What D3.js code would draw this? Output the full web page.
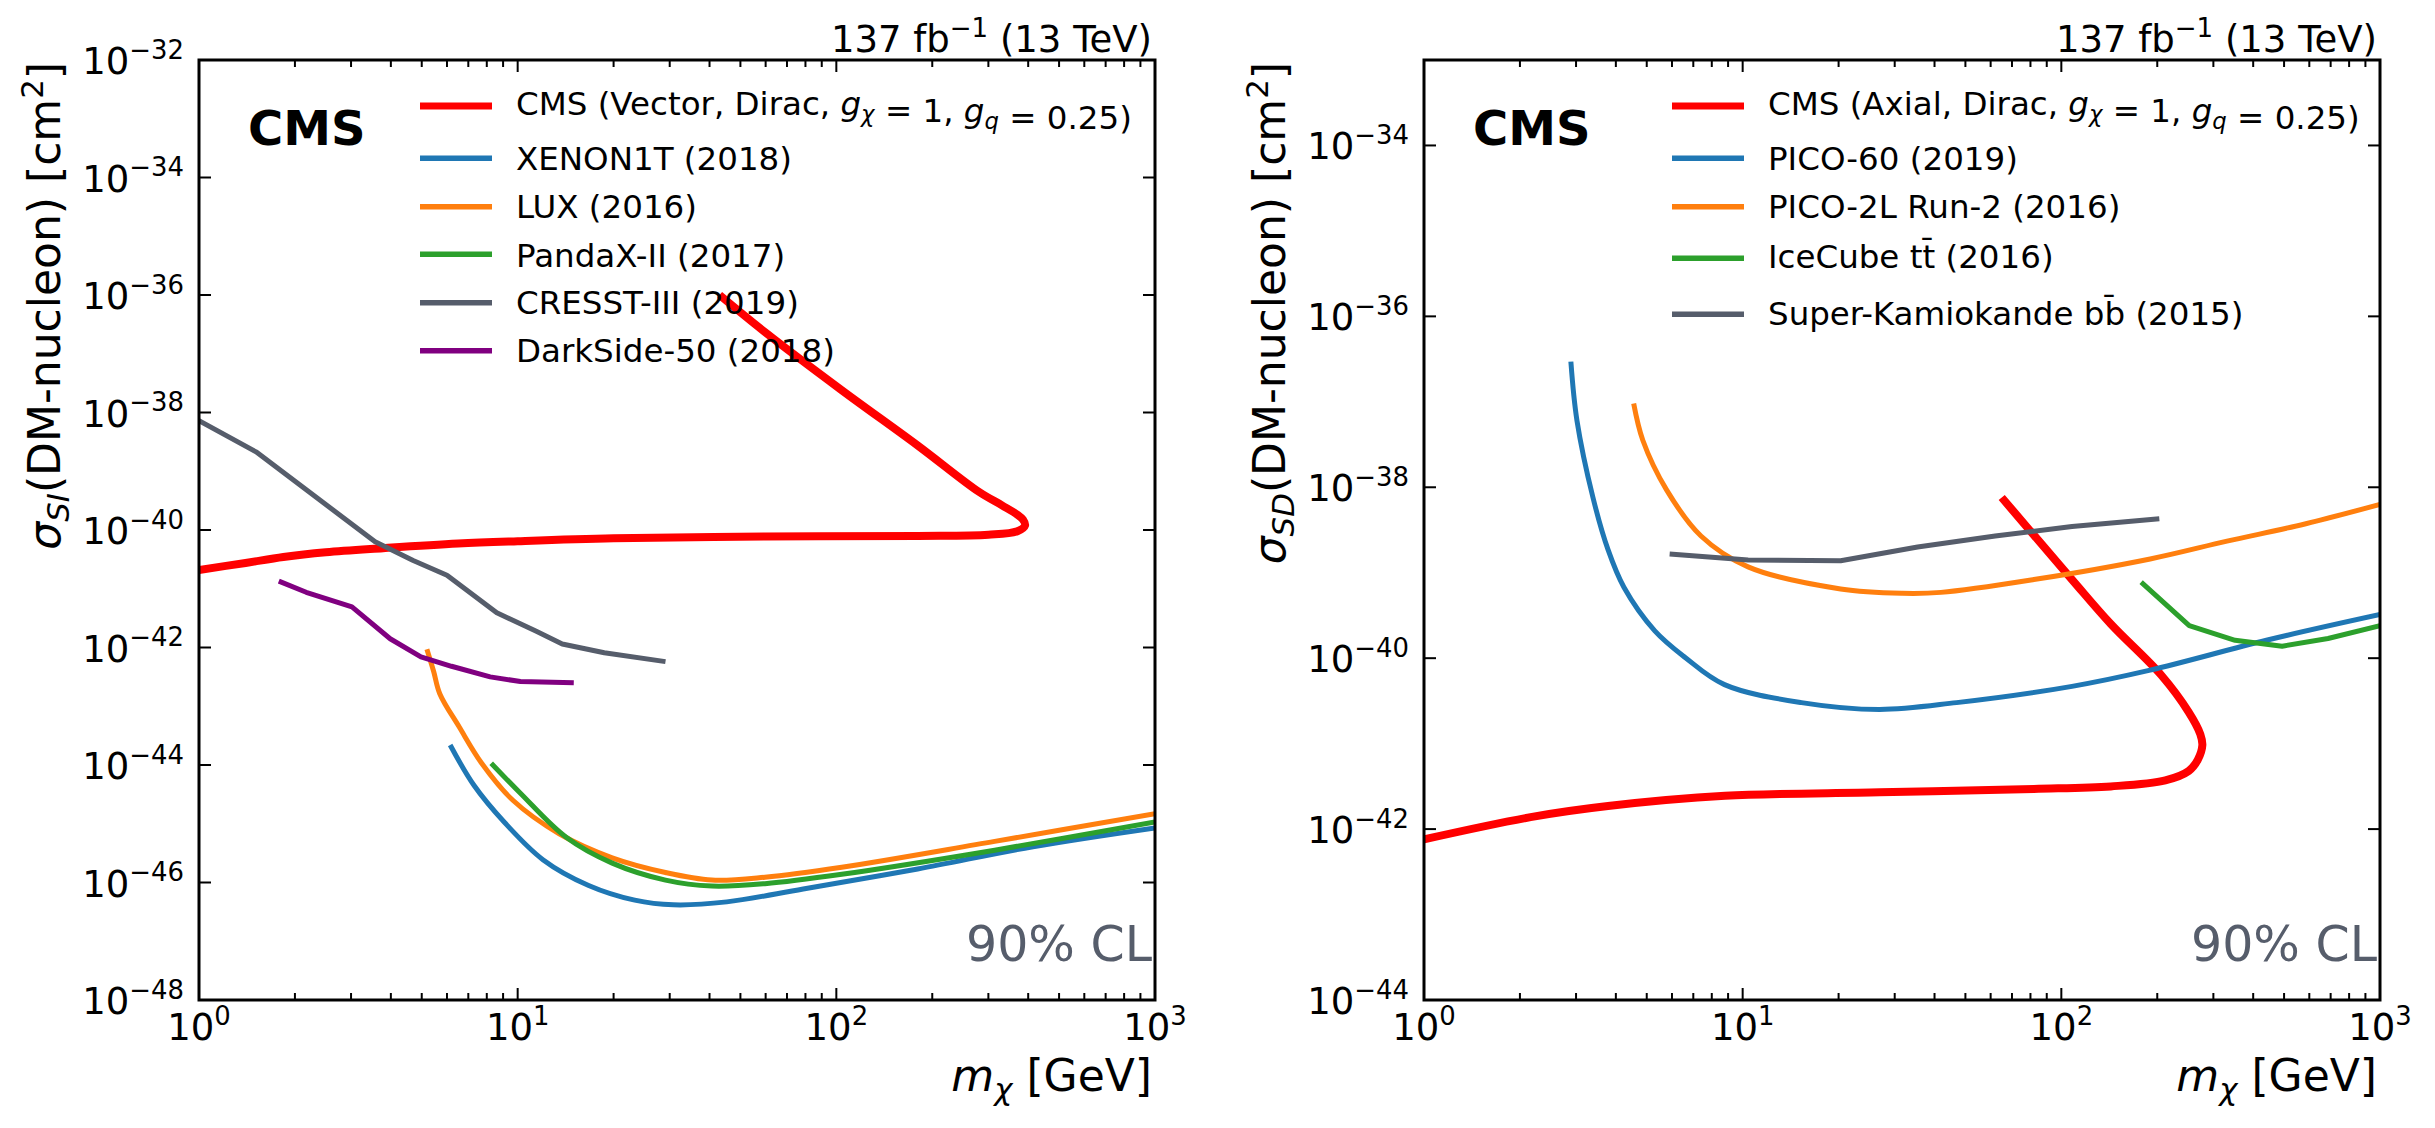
<!DOCTYPE html>
<html><head><meta charset="utf-8">
<script src="https://cdn.jsdelivr.net/npm/d3@7"></script>
<style>
body{margin:0;background:#fff}
svg{display:block}
text{font-family:"DejaVu Sans",sans-serif}
</style>
</head><body>
<svg id="chart" width="2435" height="1128"></svg>
<script>
// ---------------- DATA ----------------
// Spin-independent panel: [mass GeV, cross-section cm^2]
const cmsVector = [[1,2.09e-41],[1.4,2.75e-41],[1.84,3.47e-41],[2.5,4.17e-41],[3.78,4.9e-41],[6.5,5.89e-41],[10,6.46e-41],[20,7.24e-41],[60,7.76e-41],[180,7.94e-41],[300,8.32e-41],[370,9.55e-41],[391,1.2e-40],[385,1.51e-40],[370,1.82e-40],[331,2.63e-40],[280,4.47e-40],[180,2.75e-39],[104,2.4e-38],[60,2.29e-37],[43,1.0e-36]];
const xenon1t = [[6.14,2.19e-44],[7.3,4.47e-45],[9.1,1.05e-45],[12,2.45e-46],[16.7,8.91e-47],[23.3,5.01e-47],[30.8,4.17e-47],[45.3,4.68e-47],[78.7,7.76e-47],[180,1.70e-46],[414,4.07e-46],[1000,8.51e-46]];
const lux2016 = [[5.19,9.33e-43],[5.45,3.9e-43],[5.7,1.62e-43],[6.55,4.47e-44],[7.73,1.05e-44],[9.66,2.51e-45],[13.5,6.76e-46],[19.8,2.63e-46],[29.1,1.48e-46],[40.7,1.10e-46],[59.7,1.23e-46],[104,1.82e-46],[314,5.01e-46],[1000,1.48e-45]];
const pandax2 = [[8.26,1.07e-44],[10.2,3.31e-45],[14.2,5.89e-46],[19.8,2.14e-46],[29.1,1.10e-46],[40.7,8.71e-47],[59.7,9.55e-47],[104,1.38e-46],[314,3.55e-46],[1000,1.07e-45]];
const cresst3 = [[1,7.24e-39],[1.51,2.14e-39],[3.57,6.31e-41],[4.7,3.02e-41],[6.0,1.70e-41],[8.6,3.89e-42],[11.4,1.91e-42],[13.8,1.15e-42],[18.7,8.13e-43],[29.1,5.75e-43]];
const darkside50 = [[1.78,1.35e-41],[2.17,8.71e-42],[3.02,4.9e-42],[3.98,1.41e-42],[4.97,6.92e-43],[6.2,4.79e-43],[8.2,3.16e-43],[10.2,2.63e-43],[15,2.51e-43]];

// Spin-dependent panel
const cmsAxial = [[1,7.59e-43],[2.16,1.38e-42],[3.78,1.86e-42],[8.8,2.45e-42],[26.9,2.69e-42],[82,2.95e-42],[143,3.16e-42],[212,3.72e-42],[251,4.79e-42],[268,6.46e-42],[277,9.55e-42],[273,1.29e-41],[251,2.34e-41],[206,6.31e-41],[143,2.51e-40],[108,8.32e-40],[65,7.59e-39]];
const pico60 = [[2.89,2.95e-37],[3.02,6.03e-38],[3.39,7.59e-39],[3.78,1.86e-39],[4.24,6.76e-40],[5.3,2.09e-40],[6.6,1.02e-40],[8.77,4.9e-41],[15.3,3.02e-41],[26.9,2.51e-41],[46.9,3.02e-41],[108,4.68e-41],[190,7.24e-41],[440,1.62e-40],[1000,3.24e-40]];
const pico2l = [[4.55,9.55e-38],[4.86,3.55e-38],[5.77,9.33e-39],[7.4,2.69e-39],[10.4,1.17e-39],[20.3,6.46e-40],[31.7,5.75e-40],[41.9,5.89e-40],[82,8.32e-40],[190,1.45e-39],[331,2.34e-39],[581,3.72e-39],[1000,6.31e-39]];
const icecubeTT = [[178,7.76e-40],[252,2.4e-40],[351,1.62e-40],[493,1.38e-40],[687,1.70e-40],[1000,2.4e-40]];
const superKBB = [[5.9,1.66e-39],[10.4,1.41e-39],[20.3,1.38e-39],[35.4,2.0e-39],[62,2.69e-39],[108,3.47e-39],[203,4.27e-39]];

const siLabels = ["CMS (Vector, Dirac, g_χ = 1, g_q = 0.25)","XENON1T (2018)","LUX (2016)","PandaX-II (2017)","CRESST-III (2019)","DarkSide-50 (2018)"];
const sdLabels = ["CMS (Axial, Dirac, g_χ = 1, g_q = 0.25)","PICO-60 (2019)","PICO-2L Run-2 (2016)","IceCube tt\u0304 (2016)","Super-Kamiokande bb\u0304 (2015)"];
const siTickExps = [-32,-34,-36,-38,-40,-42,-44,-46,-48];
const sdTickExps = [-34,-36,-38,-40,-42,-44];
const xTickExps = [0,1,2,3];

// ---------------- STYLE / LAYOUT ----------------
const RED="#ff0000",BLUE="#1f77b4",ORANGE="#ff7f0e",GREEN="#2ca02c",GREY="#565d6b",PURPLE="#800080";
const svg = d3.select("#chart");

const panels = [
  {id:"si", left:199, right:1155, top:60, bottom:1000, yDomain:[1e-48,1e-32], yTicks:siTickExps,
   series:[cmsVector,xenon1t,lux2016,pandax2,cresst3,darkside50],
   colors:[RED,BLUE,ORANGE,GREEN,GREY,PURPLE],
   curves:["smooth","smooth","smooth","smooth","linear","linear"],
   labels:siLabels, sub:"SI", legLineX:420, legTextX:516,
   legY:[106,158.3,206.7,254.3,302.7,350.7], legBase:[115,170,218.3,266.7,314,361.7]},
  {id:"sd", left:1424, right:2380, top:60, bottom:1000, yDomain:[1e-44,1e-33], yTicks:sdTickExps,
   series:[cmsAxial,pico60,pico2l,icecubeTT,superKBB],
   colors:[RED,BLUE,ORANGE,GREEN,GREY],
   curves:["smooth","smooth","smooth","linear","linear"],
   labels:sdLabels, sub:"SD", legLineX:1672, legTextX:1768,
   legY:[106,158.3,206.7,258.3,314.3], legBase:[115,170,218.3,268.3,325]}
];

const TICK_FS=37, LEG_FS=32.5, LAB_FS=44;

function supText(sel, base, sup, fs){
  sel.append("tspan").text(base);
  sel.append("tspan").attr("dy",-0.41*fs).attr("font-size",fs*0.7).text(sup);
}

panels.forEach(p=>{
  const g = svg.append("g");
  const x = d3.scaleLog().domain([1,1000]).range([p.left,p.right]);
  const y = d3.scaleLog().domain(p.yDomain).range([p.bottom,p.top]);

  g.append("clipPath").attr("id","clip-"+p.id).append("rect")
    .attr("x",p.left).attr("y",p.top).attr("width",p.right-p.left).attr("height",p.bottom-p.top);

  // curves
  const cg = g.append("g").attr("clip-path","url(#clip-"+p.id+")");
  p.series.forEach((s,i)=>{
    const line = d3.line().x(d=>x(d[0])).y(d=>y(d[1]))
      .curve(p.curves[i]==="smooth" ? d3.curveCatmullRom.alpha(0.5) : d3.curveLinear);
    cg.append("path").attr("d",line(s)).attr("fill","none")
      .attr("stroke",p.colors[i]).attr("stroke-width", i===0?8:5)
      .attr("stroke-linejoin","round").attr("stroke-linecap","butt");
  });

  // x ticks (major + minor), top & bottom, inward
  const minor=[];
  for(let d=1; d<1000; d*=10) for(let k=2;k<=9;k++) minor.push(d*k);
  const tg = g.append("g").attr("stroke","#000").attr("stroke-width",2);
  xTickExps.forEach(e=>{
    const xx=x(Math.pow(10,e));
    tg.append("line").attr("x1",xx).attr("x2",xx).attr("y1",p.bottom).attr("y2",p.bottom-12);
    tg.append("line").attr("x1",xx).attr("x2",xx).attr("y1",p.top).attr("y2",p.top+12);
  });
  minor.forEach(v=>{
    const xx=x(v);
    tg.append("line").attr("x1",xx).attr("x2",xx).attr("y1",p.bottom).attr("y2",p.bottom-7);
    tg.append("line").attr("x1",xx).attr("x2",xx).attr("y1",p.top).attr("y2",p.top+7);
  });
  p.yTicks.forEach(e=>{
    const yy=y(Math.pow(10,e));
    tg.append("line").attr("x1",p.left).attr("x2",p.left+12).attr("y1",yy).attr("y2",yy);
    tg.append("line").attr("x1",p.right).attr("x2",p.right-12).attr("y1",yy).attr("y2",yy);
  });

  // frame
  g.append("rect").attr("x",p.left).attr("y",p.top).attr("width",p.right-p.left).attr("height",p.bottom-p.top)
    .attr("fill","none").attr("stroke","#000").attr("stroke-width",3);

  // tick labels
  xTickExps.forEach(e=>{
    const t=g.append("text").attr("x",x(Math.pow(10,e))).attr("y",p.bottom+40)
      .attr("text-anchor","middle").attr("font-size",TICK_FS);
    supText(t,"10",String(e),TICK_FS);
  });
  p.yTicks.forEach(e=>{
    const t=g.append("text").attr("x",p.left-15).attr("y",y(Math.pow(10,e))+14)
      .attr("text-anchor","end").attr("font-size",TICK_FS);
    supText(t,"10","\u2212"+(-e),TICK_FS);
  });

  // luminosity title
  const tt=g.append("text").attr("x",p.right-3).attr("y",52).attr("text-anchor","end").attr("font-size",TICK_FS);
  tt.append("tspan").text("137 fb");
  tt.append("tspan").attr("dy",-15).attr("font-size",26).text("\u22121");
  tt.append("tspan").attr("dy",15).text(" (13 TeV)");

  // CMS
  g.append("text").attr("x",p.left+49).attr("y",145).attr("font-size",48).attr("font-weight","bold").text("CMS");

  // 90% CL
  g.append("text").attr("x",p.right-3).attr("y",961).attr("text-anchor","end")
    .attr("font-size",49).attr("fill",GREY).text("90% CL");

  // x label
  const xl=g.append("text").attr("x",p.right-3).attr("y",1091).attr("text-anchor","end").attr("font-size",LAB_FS);
  xl.append("tspan").attr("font-style","italic").text("m");
  xl.append("tspan").attr("font-style","italic").attr("font-size",LAB_FS*0.7).attr("dy",9).text("χ");
  xl.append("tspan").attr("dy",-9).text(" [GeV]");

  // y label
  const yl=g.append("text").attr("transform",`translate(${p.left-139},62) rotate(-90)`)
    .attr("text-anchor","end").attr("font-size",LAB_FS);
  yl.append("tspan").attr("font-style","italic").text("σ");
  yl.append("tspan").attr("font-style","italic").attr("font-size",LAB_FS*0.7).attr("dy",9).text(p.sub);
  yl.append("tspan").attr("dy",-9).text("(DM-nucleon) [cm");
  yl.append("tspan").attr("dy",-17).attr("font-size",LAB_FS*0.7).text("2");
  yl.append("tspan").attr("dy",17).text("]");

  // legend
  p.labels.forEach((lab,i)=>{
    g.append("line").attr("x1",p.legLineX).attr("x2",p.legLineX+72)
      .attr("y1",p.legY[i]).attr("y2",p.legY[i])
      .attr("stroke",p.colors[i]).attr("stroke-width",i===0?7:5.5);
    const t=g.append("text").attr("x",p.legTextX).attr("y",p.legBase[i]).attr("font-size",LEG_FS);
    const parts=lab.split(/(g_[χq])/);
    parts.forEach(part=>{
      if(/^g_[χq]$/.test(part)){
        t.append("tspan").attr("font-style","italic").text("g");
        t.append("tspan").attr("font-style","italic").attr("font-size",LEG_FS*0.7).attr("dy",7).text(part[2]);
        t.append("tspan").attr("dy",-7).text("");
      } else if(part.length){
        t.append("tspan").text(part);
      }
    });
  });
});
</script>
</body></html>
